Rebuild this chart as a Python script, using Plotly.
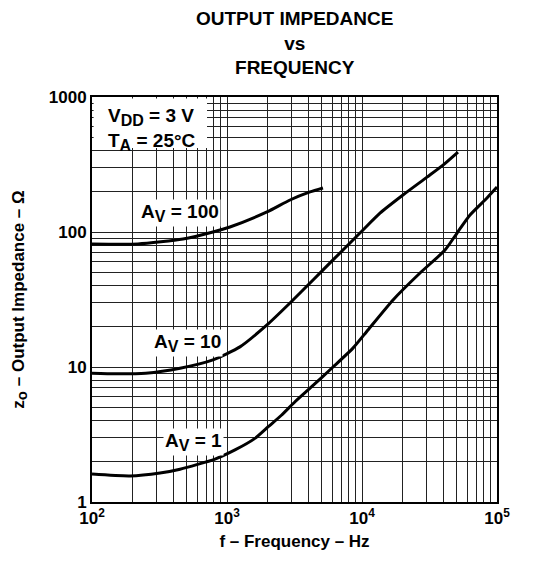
import plotly.graph_objects as go

# curves (frequency in Hz, impedance in ohms)
FREQ_AV100 = [100, 219, 472, 787, 1052, 1978, 2929, 4120, 5140]
ZO_AV100 = [81.5, 81.5, 88.7, 100, 108.9, 140.7, 172.6, 198, 212]

FREQ_AV10 = [100, 150, 250, 449, 787, 1247, 1978, 2929, 4340, 6100, 9660, 13590, 20100, 30300, 39800, 51400]
ZO_AV10 = [9.0, 8.9, 9.0, 9.8, 11.3, 14.1, 20.5, 29.8, 44.1, 62.1, 98.3, 138, 188, 255, 313, 391]

FREQ_AV1 = [100, 191, 319, 449, 815, 1146, 1611, 2022, 2541, 3190, 4240, 6100, 8570, 11070, 16980, 26900, 41200, 50600, 63100, 84300, 100000]
ZO_AV1 = [1.61, 1.56, 1.64, 1.75, 2.08, 2.43, 2.96, 3.61, 4.41, 5.53, 7.15, 10, 13.8, 18.8, 31.4, 49.7, 73.5, 98.3, 133.6, 178.6, 215]

X_GRID = [m * 10 ** e for e in range(2, 5) for m in range(1, 10)] + [100000]
X_LABELS = {100: "10<sup>2</sup>", 1000: "10<sup>3</sup>", 10000: "10<sup>4</sup>", 100000: "10<sup>5</sup>"}
Y_GRID = [m * 10 ** e for e in range(0, 3) for m in range(1, 10)] + [1000]
Y_LABELS = {1: "1", 10: "10", 100: "100", 1000: "1000"}

FONT = "Liberation Sans, Arial, sans-serif"


def sub(s, size=16):
    # datasheet subscripts are nearly full size
    return f"<sub><span style='font-size:{size}px'>{s}</span></sub>"


fig = go.Figure()
for fx, zy in [(FREQ_AV100, ZO_AV100), (FREQ_AV10, ZO_AV10), (FREQ_AV1, ZO_AV1)]:
    fig.add_trace(go.Scatter(x=fx, y=zy, mode="lines",
                             line=dict(color="black", width=3, shape="spline", smoothing=0.6),
                             showlegend=False, hoverinfo="skip"))

axis_common = dict(
    type="log", showgrid=True, gridcolor="#222", gridwidth=1, ticks="", zeroline=False,
    showline=True, linecolor="black", linewidth=2, mirror=True, automargin=False,
    tickfont=dict(family=FONT, size=17, color="black"),
)
fig.update_xaxes(range=[2, 5], tickvals=X_GRID,
                 ticktext=[f"<b>{X_LABELS[v]}</b>" if v in X_LABELS else "" for v in X_GRID],
                 title=dict(text="<b>f – Frequency – Hz</b>", font=dict(family=FONT, size=17, color="black"), standoff=8),
                 **axis_common)
fig.update_yaxes(range=[0, 3], tickvals=Y_GRID,
                 ticktext=[f"<b>{Y_LABELS[v]}</b>" if v in Y_LABELS else "" for v in Y_GRID],
                 title=dict(text=f"<b>z{sub('o', 15)} – Output Impedance – Ω</b>", font=dict(family=FONT, size=17, color="black"), standoff=20),
                 **axis_common)

# white box behind the conditions text (no curves run through it)
fig.add_shape(type="rect", xref="paper", yref="paper", x0=0.004, x1=0.284, y0=0.874, y1=0.996,
              fillcolor="white", line_width=0, layer="above")

lab_font = dict(family=FONT, size=19, color="black")
fig.add_annotation(x=0.035, y=0.985, xref="paper", yref="paper", xanchor="left", yanchor="top",
                   text=f"<b>V{sub('DD')} = 3 V</b><br><b>T{sub('A')} = 25°C</b>", align="left",
                   showarrow=False, font=lab_font)
fig.add_annotation(x=2.652, y=2.141, xref="x", yref="y", text=f"<b>A{sub('V')} = 100</b>",
                   showarrow=False, bgcolor="white", font=lab_font)
fig.add_annotation(x=2.705, y=1.178, xref="x", yref="y", text=f"<b>A{sub('V')} = 10</b>",
                   showarrow=False, bgcolor="white", font=lab_font)
fig.add_annotation(x=2.75, y=0.444, xref="x", yref="y", text=f"<b>A{sub('V')} = 1</b>",
                   showarrow=False, bgcolor="white", font=lab_font)

# title as a paper annotation above the plot
fig.add_annotation(x=0.5, y=1.225, xref="paper", yref="paper", xanchor="center", yanchor="top",
                   text="<b>OUTPUT IMPEDANCE</b><br><b>vs</b><br><b>FREQUENCY</b>", showarrow=False,
                   font=dict(family=FONT, size=19, color="black"))

# page body has an 8px margin, so the figure is shrunk by that much
fig.update_layout(
    width=526, height=557,
    margin=dict(l=84, r=37, t=89, b=63),
    paper_bgcolor="white", plot_bgcolor="white",
)

fig.write_html("out.html")
